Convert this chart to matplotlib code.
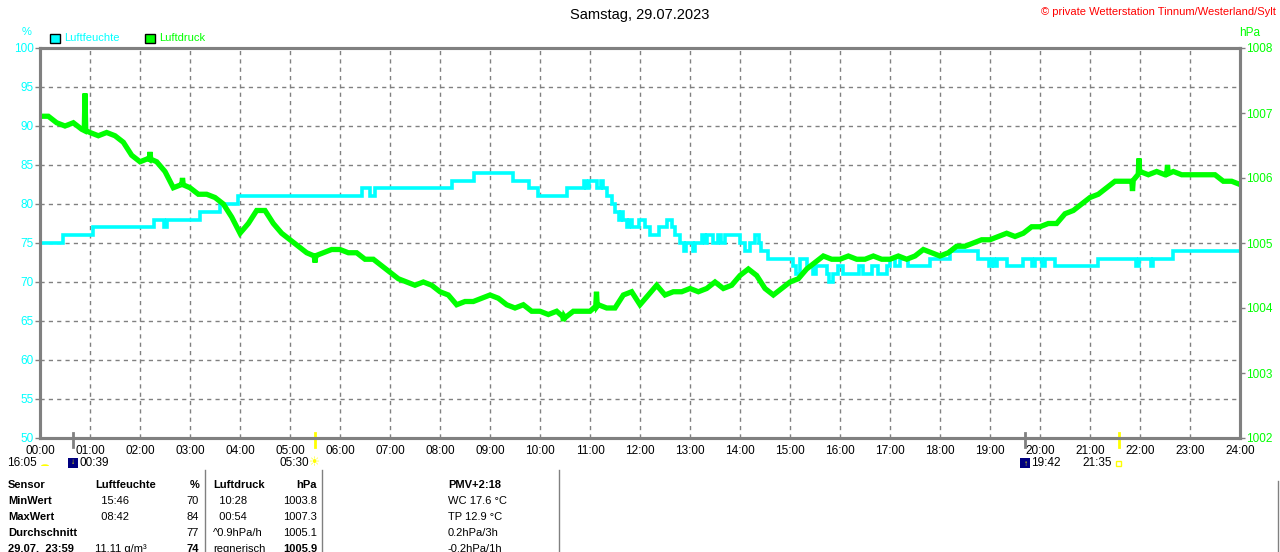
import numpy as np
import matplotlib
matplotlib.use('Agg')
import matplotlib.pyplot as plt
import matplotlib.transforms as mtrans
from matplotlib.lines import Line2D
from matplotlib.patches import Rectangle, Wedge

plt.rcParams['font.family'] = ['Liberation Sans', 'DejaVu Sans']

CYAN = '#00ffff'
GREEN = '#00ff00'
GRID = '#808080'

TITLE = 'Samstag, 29.07.2023'
COPYRIGHT = '© private Wetterstation Tinnum/Westerland/Sylt'

# humidity (%) as step changes: hour -> value
hum_t = [0, 0.45, 1.05, 2.27, 2.47, 2.53, 3.2, 3.6, 3.96, 6.44, 6.6, 6.7, 8.24, 8.68,
         9.46, 9.77, 9.96, 10.53, 10.87, 10.92, 10.97, 11.13, 11.22, 11.25, 11.33, 11.43,
         11.5, 11.57, 11.62, 11.66, 11.73, 11.78, 11.83, 11.97, 12.1, 12.2, 12.37, 12.53,
         12.63, 12.7, 12.8, 12.88, 12.92, 13.06, 13.1, 13.24, 13.3, 13.34, 13.45, 13.55,
         13.62, 13.7, 14.0, 14.1, 14.2, 14.3, 14.38, 14.42, 14.56, 15.06, 15.12, 15.2,
         15.33, 15.45, 15.52, 15.73, 15.77, 15.85, 15.95, 16.05, 16.38, 16.45, 16.65,
         16.75, 16.94, 17.0, 17.1, 17.2, 17.36, 17.8, 18.2, 18.76, 18.98, 19.04, 19.08,
         19.14, 19.34, 19.66, 19.84, 19.9, 20.04, 20.1, 20.3, 21.16, 21.92, 21.98, 22.22,
         22.26, 22.66, 24]
hum_v = [75, 76, 77, 78, 77, 78, 79, 80, 81, 82, 81, 82, 83, 84,
         83, 82, 81, 82, 83, 82, 83, 82, 83, 82, 81, 80,
         79, 78, 79, 78, 77, 78, 77, 78, 77, 76, 77, 78,
         77, 76, 75, 74, 75, 74, 75, 76, 75, 76, 75, 76,
         75, 76, 75, 74, 75, 76, 75, 74, 73, 72, 71, 73,
         72, 71, 72, 71, 70, 71, 72, 71, 72, 71, 72,
         71, 72, 73, 72, 73, 72, 73, 74, 73, 72, 73, 72,
         73, 72, 73, 72, 73, 72, 73, 72, 73, 72, 73, 72,
         73, 74, 74]

# pressure (hPa) every 10 minutes from 00:00 to 24:00
pres_v = [
    1006.95, 1006.95, 1006.85, 1006.8, 1006.85, 1006.75,
    1006.7, 1006.65, 1006.7, 1006.65, 1006.55, 1006.35,
    1006.25, 1006.3, 1006.25, 1006.1, 1005.85, 1005.9,
    1005.85, 1005.75, 1005.75, 1005.7, 1005.6, 1005.4,
    1005.15, 1005.3, 1005.5, 1005.5, 1005.3, 1005.15,
    1005.05, 1004.95, 1004.85, 1004.8, 1004.85, 1004.9,
    1004.9, 1004.85, 1004.85, 1004.75, 1004.75, 1004.65,
    1004.55, 1004.45, 1004.4, 1004.35, 1004.4, 1004.35,
    1004.25, 1004.2, 1004.05, 1004.1, 1004.1, 1004.15,
    1004.2, 1004.15, 1004.05, 1004.0, 1004.05, 1003.95,
    1003.95, 1003.9, 1003.95, 1003.85, 1003.95, 1003.95,
    1003.95, 1004.05, 1004.0, 1004.0, 1004.2, 1004.25,
    1004.05, 1004.2, 1004.35, 1004.2, 1004.25, 1004.25,
    1004.3, 1004.25, 1004.3, 1004.4, 1004.3, 1004.35,
    1004.5, 1004.6, 1004.5, 1004.3, 1004.2, 1004.3,
    1004.4, 1004.45, 1004.6, 1004.7, 1004.8, 1004.75,
    1004.75, 1004.8, 1004.75, 1004.75, 1004.8, 1004.75,
    1004.75, 1004.8, 1004.75, 1004.8, 1004.9, 1004.85,
    1004.8, 1004.85, 1004.95, 1004.95, 1005.0, 1005.05,
    1005.05, 1005.1, 1005.15, 1005.1, 1005.15, 1005.25,
    1005.25, 1005.3, 1005.3, 1005.45, 1005.5, 1005.6,
    1005.7, 1005.75, 1005.85, 1005.95, 1005.95, 1005.95,
    1006.1, 1006.05, 1006.1, 1006.05, 1006.1, 1006.05,
    1006.05, 1006.05, 1006.05, 1006.05, 1005.95, 1005.95,
    1005.9]
# short pressure spikes: hour, value
spike_t = [0.9, 2.2, 2.85, 5.5, 10.47, 11.13, 21.85, 21.98, 22.55]
spike_v = [1007.3, 1006.4, 1006.0, 1004.7, 1003.8, 1004.25, 1005.8, 1006.3, 1006.2]

hour_labels = ['%02d:00' % h for h in range(25)]
hum_ticks = list(range(50, 101, 5))
pres_ticks = list(range(1002, 1009))

# sun / moon events below the axis
ev_t = [0.65, 5.5, 19.7, 21.583]
ev_color = [GRID, '#ffff00', GRID, '#ffff00']

table_rows = [
    ['Sensor', 'Luftfeuchte', '%', 'Luftdruck', 'hPa', 'PMV+2:18'],
    ['MinWert', '  15:46', '70', '  10:28', '1003.8', 'WC 17.6 °C'],
    ['MaxWert', '  08:42', '84', '  00:54', '1007.3', 'TP 12.9 °C'],
    ['Durchschnitt', '', '77', '^0.9hPa/h', '1005.1', '0.2hPa/3h'],
    ['29.07.  23:59', '11.11 g/m³', '74', 'regnerisch', '1005.9', '-0.2hPa/1h'],
]

W, H = 1280, 552
fig = plt.figure(figsize=(W / 100, H / 100), dpi=100)
fig.patch.set_facecolor('white')

def px(x, y):
    return x / W, 1 - y / H

ax = fig.add_axes([40 / W, 1 - 438 / H, 1200 / W, 390 / H])
ax2 = ax.twinx()

ax.set_xlim(0, 24)
ax.set_ylim(50, 100)
ax2.set_ylim(1002, 1008)

ax.set_xticks(range(25))
ax.set_xticklabels(hour_labels)
ax.set_yticks(hum_ticks)
ax.set_yticklabels([str(v) for v in hum_ticks])
ax2.set_yticks(pres_ticks)
ax2.set_yticklabels([str(v) for v in pres_ticks])

ax.tick_params(axis='x', length=0, pad=5, labelsize=8.5, labelcolor='black')
ax.tick_params(axis='y', length=3.5, width=1, color=GRID, pad=1, labelsize=8.5, labelcolor=CYAN)
ax2.tick_params(axis='y', length=3.5, width=1, color=GRID, pad=1, labelsize=8.5, labelcolor=GREEN)

for a in (ax, ax2):
    for s in a.spines.values():
        s.set_color(GRID)
        s.set_linewidth(2.2)

for h in range(1, 24):
    ax.axvline(h, color=GRID, lw=1, ls=(0, (3, 3)), zorder=0)
for v in hum_ticks[1:-1]:
    ax.axhline(v, color=GRID, lw=1, ls=(0, (3, 3)), zorder=0)

ax.plot(hum_t, hum_v, drawstyle='steps-post', color=CYAN, lw=2.6, solid_joinstyle='miter')

# pressure: 10-minute values with the short spikes merged in
pt = list(np.arange(len(pres_v)) / 6.0)
pv = list(pres_v)
for t, v in zip(spike_t, spike_v):
    i = int(np.searchsorted(pt, t))
    base = pv[i - 1] + (pv[i] - pv[i - 1]) * (t - pt[i - 1]) * 6
    pt[i:i] = [t - 0.015, t, t + 0.015]
    pv[i:i] = [base, v, base]
ax2.plot(pt, pv, color=GREEN, lw=3.8, solid_joinstyle='miter')

# event ticks at the bottom axis
trans = mtrans.blended_transform_factory(ax.transData, ax.transAxes)
for t, c in zip(ev_t, ev_color):
    ax.plot([t, t], [0.013, -0.024], color=c, lw=2, transform=trans, clip_on=False, zorder=5)

# header
fig.text(*px(640, 15), TITLE, ha='center', va='center', fontsize=10.5)
fig.text(*px(1276, 12), COPYRIGHT, ha='right', va='center', fontsize=8, color='#ff0000')
fig.text(*px(27, 32), '%', ha='center', va='center', fontsize=8, color=CYAN)
fig.text(*px(1250, 33), 'hPa', ha='center', va='center', fontsize=8.5, color=GREEN)

fig.patches.append(Rectangle(px(50, 43), 10 / W, 9 / H, transform=fig.transFigure,
                             facecolor=CYAN, edgecolor='black', lw=1))
fig.text(*px(64, 38), 'Luftfeuchte', ha='left', va='center', fontsize=8, color=CYAN)
fig.patches.append(Rectangle(px(145, 43), 10 / W, 9 / H, transform=fig.transFigure,
                             facecolor=GREEN, edgecolor='black', lw=1))
fig.text(*px(159, 38), 'Luftdruck', ha='left', va='center', fontsize=8, color=GREEN)

# event labels and icons
ly = 463
fig.text(*px(37, ly), '16:05', ha='right', va='center', fontsize=8.5)
fig.patches.append(Wedge(px(45, ly + 3), 4 / W, 0, 180, transform=fig.transFigure,
                         facecolor='#ffff00', edgecolor='none'))
fig.patches.append(Rectangle(px(68, ly + 5), 10 / W, 10 / H, transform=fig.transFigure,
                             facecolor='#000080', edgecolor='none'))
fig.text(*px(73, ly - 1), '↓', ha='center', va='center', fontsize=6, color='#ffff00', fontweight='bold')
fig.text(*px(79, ly), '00:39', ha='left', va='center', fontsize=8.5)
fig.text(*px(309, ly), '05:30', ha='right', va='center', fontsize=8.5)
fig.text(*px(315, ly), '☀', ha='center', va='center', fontsize=9, color='#ffff00',
         family=['DejaVu Sans'])
fig.patches.append(Rectangle(px(1020, ly + 5), 10 / W, 10 / H, transform=fig.transFigure,
                             facecolor='#000080', edgecolor='none'))
fig.text(*px(1026, ly + 1), '↑', ha='center', va='center', fontsize=6, color='#ffff00', fontweight='bold')
fig.text(*px(1031, ly), '19:42', ha='left', va='center', fontsize=8.5)
fig.text(*px(1112, ly), '21:35', ha='right', va='center', fontsize=8.5)
fig.patches.append(Rectangle(px(1116, ly + 3), 5 / W, 5 / H, transform=fig.transFigure,
                             facecolor='none', edgecolor='#ffff00', lw=1))

# statistics table
row_y = [485, 501, 517, 533, 549]
col_x = [8, 95, 199, 213, 317, 448]
col_ha = ['left', 'left', 'right', 'left', 'right', 'left']
for r, (row, y) in enumerate(zip(table_rows, row_y)):
    for c, (txt, x, ha) in enumerate(zip(row, col_x, col_ha)):
        bold = r == 0 or c == 0 or (r == 4 and c in (2, 4))
        if r > 0 and c == 5:
            bold = False
        fig.text(*px(x, y), txt, ha=ha, va='center', fontsize=8,
                 fontweight='bold' if bold else 'normal')

for x in (205, 322, 559):
    fig.add_artist(Line2D([x / W, x / W], [1 - 470 / H, 0], color=GRID, lw=1))
fig.add_artist(Line2D([1278 / W, 1278 / W], [1 - 481 / H, 0], color=GRID, lw=1))

fig.savefig('out.png', dpi=100)
